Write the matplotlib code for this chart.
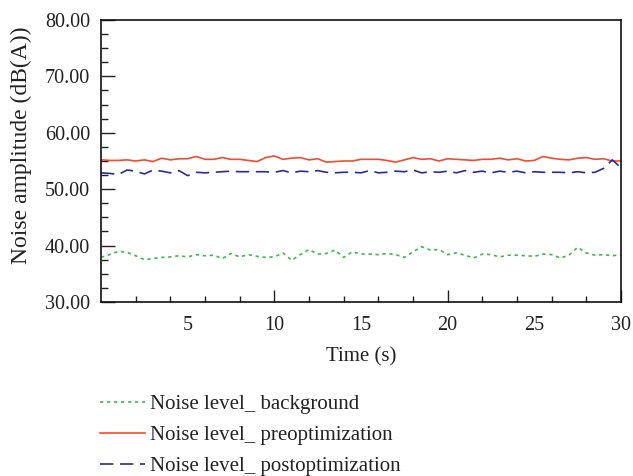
import matplotlib
matplotlib.use("Agg")
import matplotlib.pyplot as plt
from matplotlib.ticker import MultipleLocator, FixedLocator
import numpy as np

plt.rcParams['font.family'] = ['Liberation Serif', 'DejaVu Serif']

time_s = [i * 0.5 for i in range(61)]

background = [37.9, 38.4, 39.0, 38.8, 38.2, 37.5, 37.7, 37.9, 38.0, 38.2, 38.0, 38.4, 38.2, 38.3, 37.7, 38.6,
              38.0, 38.4, 38.1, 37.9, 38.0, 38.7, 37.4, 38.4, 39.3, 38.5, 38.6, 39.2, 37.9, 38.9, 38.5,
              38.5, 38.4, 38.6, 38.4, 37.9, 38.9, 39.8, 39.2, 39.3, 38.4, 38.7, 38.3, 37.8, 38.5,
              38.4, 38.0, 38.3, 38.3, 38.2, 38.1, 38.5, 38.4, 37.8, 38.3, 39.7, 38.7, 38.3, 38.4, 38.2, 38.4]

preopt = [55.2, 55.1, 55.1, 55.2, 55.0, 55.2, 54.9, 55.5, 55.2, 55.4, 55.4, 55.8, 55.3, 55.3, 55.6, 55.3,
          55.3, 55.1, 54.9, 55.6, 55.9, 55.3, 55.5, 55.6, 55.2, 55.4, 54.8, 54.9, 55.0, 55.0, 55.3,
          55.3, 55.3, 55.1, 54.8, 55.2, 55.6, 55.3, 55.4, 55.0, 55.4, 55.3, 55.2, 55.1, 55.3,
          55.3, 55.5, 55.2, 55.4, 55.0, 55.1, 55.8, 55.5, 55.3, 55.2, 55.5, 55.6, 55.3, 55.4, 55.0, 55.0]

postopt = [52.9, 52.8, 52.6, 53.4, 53.2, 52.7, 53.4, 53.2, 52.9, 53.3, 52.4, 53.0, 52.9, 53.0, 53.1, 53.2,
           53.1, 53.1, 53.1, 53.1, 53.0, 53.3, 52.9, 53.2, 53.1, 53.3, 53.0, 52.9, 53.0, 53.0, 52.9,
           53.3, 52.9, 53.0, 53.2, 53.1, 53.4, 52.9, 53.1, 53.0, 53.2, 52.9, 53.3, 53.0, 53.2,
           52.9, 53.2, 53.0, 53.2, 52.9, 53.1, 53.0, 53.0, 53.0, 52.9, 53.1, 52.9, 53.0, 53.7, 55.2, 53.8]

labels = ["Noise level_ background", "Noise level_ preoptimization", "Noise level_ postoptimization"]
x_ticks = [5, 10, 15, 20, 25, 30]
y_ticks = [30, 40, 50, 60, 70, 80]

fig = plt.figure(figsize=(6.33, 4.76), dpi=100)
ax = fig.add_axes([101/633, 1 - 302/476, 520/633, 282/476])

ax.plot(time_s, background, color='#3dbb4a', lw=1.2, ls=(0, (2, 2.2)), label=labels[0])
ax.plot(time_s, preopt, color='#f24b2e', lw=1.2, ls='-', label=labels[1])
ax.plot(time_s, postopt, color='#2b2b96', lw=1.2, ls=(0, (8, 4)), label=labels[2])

ax.set_xlim(0, 30)
ax.set_ylim(30, 80)
ax.set_xticks(x_ticks)
ax.set_xticklabels([str(v) for v in x_ticks])
ax.xaxis.set_minor_locator(FixedLocator([v for v in range(2, 30, 2) if v % 10 != 0]))
ax.set_yticks(y_ticks)
ax.set_yticklabels([f"{v:.2f}" for v in y_ticks])
ax.yaxis.set_minor_locator(MultipleLocator(2.5))

ax.tick_params(axis='both', which='major', direction='in', labelsize=14.5, width=1.0, length=9, color='#222222')
ax.tick_params(axis='both', which='minor', direction='in', width=1.0, length=4, color='#222222')
ax.tick_params(axis='x', which='major', pad=10)
ax.tick_params(axis='y', which='major', pad=8, length=10)
ax.tick_params(axis='y', which='minor', length=5)
for t, v in zip(ax.xaxis.get_major_ticks(), x_ticks):
    if v % 10 != 0:
        t.tick1line.set_visible(False)

for s in ax.spines.values():
    s.set_linewidth(1.2)
    s.set_color('#111111')

ax.set_xlabel("Time (s)", fontsize=15, labelpad=9, color='#222222')
ax.set_ylabel("Noise amplitude (dB(A))", fontsize=17, color='#222222')
ax.yaxis.set_label_coords(-0.133, 0.557)
for lab in ax.get_xticklabels() + ax.get_yticklabels():
    lab.set_color('#222222')

handles, labs = ax.get_legend_handles_labels()
fig.legend(handles, labs, loc='upper left', bbox_to_anchor=(81/633, 1 - 376/476),
           frameon=False, fontsize=15, handlelength=2.15, handletextpad=0.25,
           labelspacing=0.55, labelcolor='#222222')

fig.savefig("out.png", dpi=100)
